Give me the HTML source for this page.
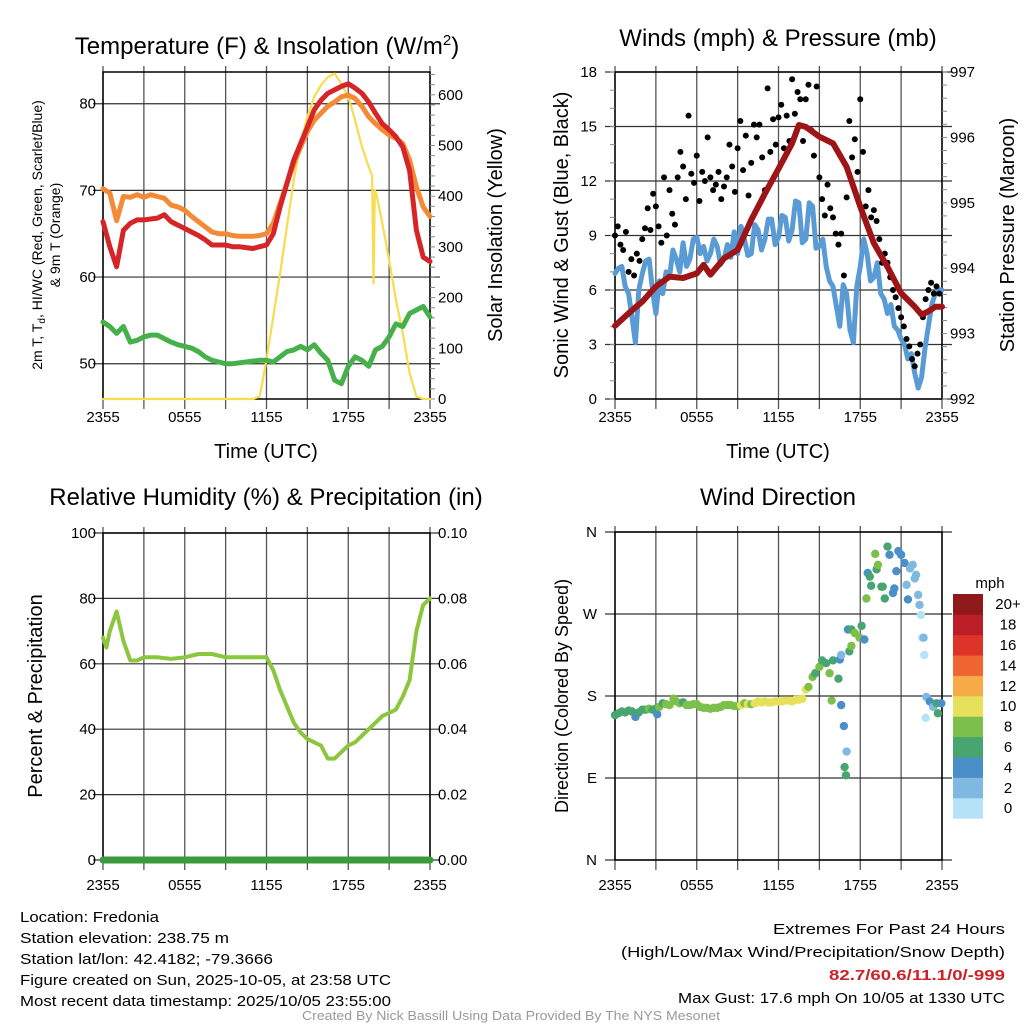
<!DOCTYPE html>
<html><head><meta charset="utf-8"><style>
html,body{margin:0;padding:0;background:#fff;}
svg{display:block;font-family:"Liberation Sans",Arial,sans-serif;}
</style></head><body>
<svg id="chart" width="1024" height="1024" viewBox="0 0 1024 1024" xmlns="http://www.w3.org/2000/svg">
<rect width="1024" height="1024" fill="#fff"/>
<text x="267" y="54" font-size="24" text-anchor="middle">Temperature (F) &amp; Insolation (W/m<tspan dy="-9" font-size="15">2</tspan><tspan dy="9">)</tspan></text>
<text x="778" y="46" font-size="24" text-anchor="middle">Winds (mph) &amp; Pressure (mb)</text>
<text x="266" y="505" font-size="24" text-anchor="middle">Relative Humidity (%) &amp; Precipitation (in)</text>
<text x="778" y="505" font-size="24" text-anchor="middle">Wind Direction</text>

<text transform="translate(42,235) rotate(-90)" font-size="14" text-anchor="middle">2m T, T<tspan dy="3" font-size="10">d</tspan><tspan dy="-3">, HI/WC (Red, Green, Scarlet/Blue)</tspan></text>
<text transform="translate(60,235) rotate(-90)" font-size="14" text-anchor="middle">&amp; 9m T (Orange)</text>
<text transform="translate(502,235) rotate(-90)" font-size="20" text-anchor="middle">Solar Insolation (Yellow)</text>
<text x="266" y="458" font-size="20" text-anchor="middle">Time (UTC)</text>
<text transform="translate(568,235) rotate(-90)" font-size="20" text-anchor="middle">Sonic Wind &amp; Gust (Blue, Black)</text>
<text transform="translate(1014,235) rotate(-90)" font-size="20" text-anchor="middle">Station Pressure (Maroon)</text>
<text x="778" y="458" font-size="20" text-anchor="middle">Time (UTC)</text>
<text transform="translate(42,696) rotate(-90)" font-size="20" text-anchor="middle">Percent &amp; Precipitation</text>
<text transform="translate(568,696) rotate(-90)" font-size="18" text-anchor="middle">Direction (Colored By Speed)</text>
<text x="990" y="588" font-size="15" text-anchor="middle">mph</text>

<g font-size="15">
<text x="20" y="922" textLength="139" lengthAdjust="spacingAndGlyphs">Location: Fredonia</text>
<text x="20" y="943" textLength="209" lengthAdjust="spacingAndGlyphs">Station elevation: 238.75 m</text>
<text x="20" y="964" textLength="253" lengthAdjust="spacingAndGlyphs">Station lat/lon: 42.4182; -79.3666</text>
<text x="20" y="985" textLength="371" lengthAdjust="spacingAndGlyphs">Figure created on Sun, 2025-10-05, at 23:58 UTC</text>
<text x="20" y="1006" textLength="371" lengthAdjust="spacingAndGlyphs">Most recent data timestamp: 2025/10/05 23:55:00</text>
<text x="773" y="934" textLength="232" lengthAdjust="spacingAndGlyphs">Extremes For Past 24 Hours</text>
<text x="621" y="957" textLength="384" lengthAdjust="spacingAndGlyphs">(High/Low/Max Wind/Precipitation/Snow Depth)</text>
<text x="829" y="980" textLength="176" lengthAdjust="spacingAndGlyphs" fill="#cc2229" font-weight="bold">82.7/60.6/11.1/0/-999</text>
<text x="678" y="1003" textLength="327" lengthAdjust="spacingAndGlyphs">Max Gust: 17.6 mph On 10/05 at 1330 UTC</text>
<text x="302" y="1020" font-size="13" fill="#999" textLength="418" lengthAdjust="spacingAndGlyphs">Created By Nick Bassill Using Data Provided By The NYS Mesonet</text>
</g>
<g id="layer"></g>
</svg>
<script>
// ---- data ----
const halfHours = [0,0.5,1,1.5,2,2.5,3,3.5,4,4.5,5,5.5,6,6.5,7,7.5,8,8.5,9,9.5,10,10.5,11,11.5,12,12.5,13,13.5,14,14.5,15,15.5,16,16.5,17,17.5,18,18.5,19,19.5,20,20.5,21,21.5,22,22.5,23,23.5,24];
const temp2m = [66.4,63.5,61.2,65.4,66.2,66.6,66.6,66.7,66.8,67.2,66.4,66,65.6,65.2,64.8,64.3,63.7,63.7,63.7,63.5,63.5,63.4,63.3,63.5,63.7,65,68.1,70.8,73.5,75.4,77.3,79.3,80.4,81.2,81.6,82,82.3,81.8,81.2,80.2,78.9,77.7,77,76.2,75,72.3,65.4,62.3,61.8];
const temp9m = [70.2,69.7,66.5,69.3,69.2,69.5,69.2,69.5,69.3,69.1,68.3,68.1,67.7,67,66.4,65.8,65.2,65,65,64.8,64.7,64.7,64.7,64.8,65,66.2,68.5,70.8,73.1,75,76.8,78.1,78.9,79.7,80.2,80.8,81,80.6,79.7,78.5,77.7,77,76.4,76,75.4,73.5,70.4,68.1,67];
const dewpoint = [54.8,54.3,53.5,54.3,52.5,52.7,53.1,53.3,53.3,52.9,52.5,52.2,52,51.8,51.4,50.8,50.4,50.2,50,50,50.1,50.2,50.3,50.4,50.4,50.2,50.8,51.4,51.6,52,51.6,52.2,51.2,50.4,48.1,47.7,49.7,50.8,50.4,49.7,51.6,52,53.1,54.6,54.3,55.8,56.2,56.6,55.4];
const solarHours = [0,11,11.5,12,12.5,13,13.5,14,14.5,15,15.5,16,16.5,17,17.5,18,18.5,19,19.5,19.75,19.85,19.95,20.1,20.5,21,21.5,22,22.5,23,23.5,24];
const solarVals = [0,0,5,77,163,248,340,432,504,557,596,619,635,642,622,596,550,498,458,440,228,412,400,347,274,196,130,51,5,0,0];
const windHours = [0,0.25,0.5,0.75,1,1.25,1.5,1.75,2,2.25,2.5,2.75,3,3.25,3.5,3.75,4,4.25,4.5,4.75,5,5.25,5.5,5.75,6,6.25,6.5,6.75,7,7.25,7.5,7.75,8,8.25,8.5,8.75,9,9.25,9.5,9.75,10,10.25,10.5,10.75,11,11.25,11.5,11.75,12,12.25,12.5,12.75,13,13.25,13.5,13.75,14,14.25,14.5,14.75,15,15.25,15.5,15.75,16,16.25,16.5,16.75,17,17.25,17.5,17.75,18,18.25,18.5,18.75,19,19.25,19.5,19.75,20,20.25,20.5,20.75,21,21.25,21.5,21.75,22,22.25,22.5,22.75,23,23.25,23.5,23.75,24];
const windSpeed = [6.9,7.2,7.3,6.2,5.8,4.5,3.1,6.0,6.9,7.6,7.7,6.0,4.7,6.5,5.8,7.0,6.7,8.2,7.7,7.0,8.6,7.3,7.7,8.8,8.9,8.0,8.4,7.6,8.0,8.8,8.4,7.4,7.7,8.5,7.8,9.2,8.0,9.5,8.8,7.9,8.0,9.6,9.3,8.2,8.8,9.9,9.9,8.5,8.9,10.1,10,8.7,9.3,10.9,10.8,8.6,8.8,10.8,10.6,8.3,8.4,8.8,7.3,6.5,6.2,5.1,4.0,6.3,5.8,3.8,3.1,6.2,7.3,8.8,8.0,6.5,6.7,7.5,5.8,5.5,4.7,5.2,4,3.8,3.3,3.0,2.2,2.5,1.4,0.6,1.2,2.8,4,5.2,5.8,6.0,6];
const pressHours = [0,1,2,3,4,5,6,6.5,7,8,9,10,11,12,13,13.5,14,15,16,17,18,19,20,21,22,22.5,23,23.5,24];
const pressure = [993.12,993.31,993.49,993.72,993.87,993.85,993.92,994.05,993.9,994.15,994.28,994.74,995.14,995.52,995.91,996.19,996.16,996.01,995.91,995.55,994.94,994.38,994.02,993.62,993.41,993.29,993.34,993.41,993.41];
const gusts = [9.0,9.5,8.5,8.2,9.2, 7.0,7.7,6.8,8.0,7.6, 8.8,9.4,10.5,9.3,11.3, 10.6,9.5,8.6,12.2,9.0, 11.5,10.2,9.6,12.2,13.6, 12.8,11.0,15.6,12.4,11.9, 13.4,10.9,12.5,12.0,14.4, 12.2,11.5,11.8,12.5,11.0, 11.7,12.2,14.0,12.8,11.4, 13.8,15.3,12.6,14.5,11.2, 13.0,15.1,14.4,15.1,13.3, 11.5,17.1,13.6,15.4,14.0, 15.5,16.2,13.8,15.6,14.2, 17.6,15.7,16.9,16.5,14.2, 16.5,17.3,14.8,13.4,17.2, 12.2,11.0,10.1,11.8,10.5, 10.0,9.1,8.5,9.1,6.8, 11.1,15.3,13.3,14.3,12.5, 16.5,13.6,10.6,11.5,10.0, 10.4,9.8,8.8,7.5,8.0, 7.5,6.7,6.0,5.6,5.0, 4.5,4.0,3.3,2.9,2.2, 1.8,2.5,3.0,4.5,5.5, 6.0,6.4,5.8,6.2,5.8];
const rhHours = [0,0.25,0.5,1,1.5,2,2.5,3,4,5,6,7,8,9,10,11,12,12.5,13,13.5,14,14.5,15,15.5,16,16.5,17,17.5,18,18.5,19,19.5,20,20.5,21,21.5,22,22.5,23,23.5,24];
const rhVals = [68,65,70,76,67,61,61,62,62,61.5,62,63,63,62,62,62,62,58,52,47,42,39,37,36,35,31,31,33,35,36,38,40,42,44,45,46,50,55,70,78,80];
const precipHours = [0,24];
const precipVals = [0,0];
const dirHours = [0,0.25,0.5,0.75,1,1.25,1.5,1.75,2,2.25,2.5,2.75,3,3.1,3.25,3.5,3.75,4,4.3,4.5,4.75,5,5.25,5.5,5.75,6,6.25,6.5,6.75,7,7.25,7.5,7.75,8,8.25,8.5,8.75,9,9.25,9.5,9.75,10,10.25,10.5,10.75,11,11.25,11.5,11.75,12,12.25,12.5,12.75,13,13.25,13.5,13.75,14,14.2,14.5,14.7,15,15.2,15.5,15.75,15.9,16,16.4,16.5,16.6,16.6,16.8,16.85,16.95,17,17.1,17.2,17.35,17.35,17.6,17.95,18.1,18.3,18.45,18.55,18.7,18.8,19.1,19.2,19.3,19.55,19.65,19.8,20.0,20.15,20.4,20.5,20.65,20.8,21.0,21.25,21.4,21.5,21.65,21.85,22.0,22.1,22.25,22.35,22.45,22.55,22.65,22.7,22.8,22.85,23.1,23.35,23.6,23.7,23.95];
const dirDeg = [159,161,163,162,164,163,157,162,165,165,166,165,166,160,168,172,171,170,177,174,172,173,170,170,171,171,168,167,167,166,167,167,168,170,170,170,169,169,170,172,171,171,172,174,173,174,173,173,174,174,174,175,175,174,176,176,177,187,190,201,205,212,219,216,205,175,219,199,220,225,170,147,102,93,119,253,229,235,253,249,244,257,242,287,315,311,301,336,319,324,300,300,287,344,335,293,298,317,339,335,326,302,286,320,324,309,313,291,280,269,244,244,225,156,179,174,168,172,161,172];
const dirSpeed = [6,6,6,6,6,6,4,6,6,6,7,6,6,4,8,6,8,8,8,8,8,6,8,8,8,8,8,8,8,8,8,8,8,8,8,8,8,8,9,8,10,8,10,10,9,10,10,10,10,10,10,10,10,10,10,10,10,9,8,7,6,7,6,6,8,8,6,6,4,2,4,4,6,6,2,4,6,8,6,8,8,6,4,8,4,6,6,8,6,8,6,6,6,6,4,4,4,4,4,4,4,2,4,2,2,2,2,2,2,0,0,2,0,0,2,4,2,6,6,4];
const timeTicks = ["2355","0555","1155","1755","2355"];
const tempTicks = [50,60,70,80];
const solarTicks = [0,100,200,300,400,500,600];
const windTicks = [0,3,6,9,12,15,18];
const pressTicks = [992,993,994,995,996,997];
const rhTicks = [0,20,40,60,80,100];
const precipTicks = ["0.00","0.02","0.04","0.06","0.08","0.10"];
const dirTicks = ["N","E","S","W","N"];
const speedBins = ["0","2","4","6","8","10","12","14","16","18","20+"];
const speedColors = ["#b5e2f7","#7fb9e2","#4a8fc7","#49a56f","#7cc04b","#e6e05b","#f6aa48","#ef6430","#dc3429","#bb1e26","#8f181b"];

// ---- helpers ----
const NS = "http://www.w3.org/2000/svg";
const layer = document.getElementById("layer");
function mk(tag, attrs, parent) {
  const el = document.createElementNS(NS, tag);
  for (const k in attrs) el.setAttribute(k, attrs[k]);
  (parent || layer).appendChild(el);
  return el;
}
function scale(d0, d1, r0, r1) { return v => r0 + (v - d0) / (d1 - d0) * (r1 - r0); }
function pathFrom(xs, ys, fx, fy) {
  return xs.map((x, i) => (i ? "L" : "M") + fx(x).toFixed(1) + "," + fy(ys[i]).toFixed(1)).join("");
}
function speedColor(s) { return speedColors[Math.min(10, Math.max(0, Math.round(s / 2)))]; }

function frame(name, x0, x1, y0, y1, hTicks, labOff) {
  const g = mk("g", {});
  
  
  const fx = scale(0, 24, x0, x1);
  for (let h = 0; h <= 24; h += 3) {
    const l = mk("line", {x1: fx(h), x2: fx(h), y1: y0 - 6, y2: y1 + 10, stroke: "#555", "stroke-width": 1.3}, g);
    
    
  }
  hTicks.forEach(y => {
    const l = mk("line", {x1: x0 - 10, x2: x1 + 10, y1: y, y2: y, stroke: "#333", "stroke-width": 1.2}, g);
    
    
  });
  const r = mk("rect", {x: x0, y: y0, width: x1 - x0, height: y1 - y0, fill: "none", stroke: "#000", "stroke-width": 1.5}, g);
  
  
  timeTicks.forEach((t, i) => {
    const tx = mk("text", {x: fx(i * 6), y: y1 + labOff, "font-size": 15, "text-anchor": "middle"}, g);
    tx.textContent = t;
    
    
  });
  return fx;
}
function yLabels(vals, fy, x, anchor, fmt) {
  vals.forEach(v => {
    const t = mk("text", {x: x, y: fy(v) + 5, "font-size": 15, "text-anchor": anchor});
    t.textContent = fmt ? fmt(v) : v;
    
    
  });
}
function minorTicks(x, y0, y1, n, dir) {
  for (let i = 0; i <= n; i++) {
    const y = y0 + (y1 - y0) * i / n;
    const l = mk("line", {x1: x, x2: x + dir * 5, y1: y, y2: y, stroke: "#888", "stroke-width": 1});
    
    
  }
}
function line(xs, ys, fx, fy, color, w, name) {
  const p = mk("path", {d: pathFrom(xs, ys, fx, fy), fill: "none", stroke: color, "stroke-width": w, "stroke-linejoin": "round", "stroke-linecap": "round"});
  
  
  return p;
}

// ---- Panel 1: temperature ----
{
  const x0 = 103, x1 = 430, y0 = 72, y1 = 399;
  const fyT = scale(45.93, 83.66, y1, y0);
  const fyS = scale(0, 645, y1, y0);
  const fx = frame("temp-panel", x0, x1, y0, y1, tempTicks.map(fyT), 23);
  yLabels(tempTicks, fyT, 96, "end");
  yLabels(solarTicks, fyS, 438, "start");
  minorTicks(x1, fyS(0), fyS(640), 32, 1);
  line(solarHours, solarVals, fx, fyS, "#f8dc4c", 2.2, "solar-insolation-line");
  line(halfHours, temp9m, fx, fyT, "#f48a36", 5, "temp-9m-line");
  line(halfHours, temp2m, fx, fyT, "#d62528", 5, "temp-2m-line");
  line(halfHours, dewpoint, fx, fyT, "#46b04a", 5, "dewpoint-line");
}
// ---- Panel 2: wind ----
{
  const x0 = 615, x1 = 942, y0 = 72, y1 = 399;
  const fyW = scale(0, 18, y1, y0);
  const fyP = scale(992, 997, y1, y0);
  const fx = frame("wind-panel", x0, x1, y0, y1, windTicks.map(fyW), 23);
  yLabels(windTicks, fyW, 597, "end");
  yLabels(pressTicks, fyP, 950, "start");
  minorTicks(x1, y0, y1, 25, 1);
  minorTicks(x0, y0, y1, 18, -1);
  line(windHours, windSpeed, fx, fyW, "#5a9bd6", 5, "sonic-wind-line");
  gusts.forEach((g, i) => {
    const c = mk("circle", {cx: fx(i * 0.2), cy: fyW(g), r: 3, fill: "#000"});
    
    
  });
  line(pressHours, pressure, fx, fyP, "#9e1518", 6, "pressure-line");
}
// ---- Panel 3: RH ----
{
  const x0 = 103, x1 = 430, y0 = 533, y1 = 860;
  const fyR = scale(0, 100, y1, y0);
  const fyPr = scale(0, 0.1, y1, y0);
  const fx = frame("rh-panel", x0, x1, y0, y1, rhTicks.map(fyR), 30);
  yLabels(rhTicks, fyR, 96, "end");
  precipTicks.forEach((t, i) => {
    const tx = mk("text", {x: 438, y: fyPr(i * 0.02) + 5, "font-size": 15});
    tx.textContent = t;
    
    
  });
  line(rhHours, rhVals, fx, fyR, "#8cc63f", 4, "relative-humidity-line");
  line(precipHours, precipVals, fx, fyPr, "#3a9a3c", 7, "precipitation-line");
}
// ---- Panel 4: direction ----
{
  const x0 = 615, x1 = 942, y0 = 532, y1 = 860;
  const fyD = scale(0, 360, y1, y0);
  const fx = frame("dir-panel", x0, x1, y0, y1, [0, 90, 180, 270, 360].map(fyD), 30);
  dirTicks.forEach((t, i) => {
    const tx = mk("text", {x: 597, y: fyD(i * 90) + 5, "font-size": 15, "text-anchor": "end"});
    tx.textContent = t;
    
    
  });
  dirHours.forEach((h, i) => {
    const c = mk("circle", {cx: fx(h), cy: fyD(dirDeg[i]), r: 4.2, fill: speedColor(dirSpeed[i])});
    
    
  });
  const cb0 = 594, cbH = 20.4;
  speedBins.forEach((b, i) => {
    const y = cb0 + (10 - i) * cbH;
    const r = mk("rect", {x: 953, y: y, width: 30, height: cbH + 0.3, fill: speedColors[i]});
    
    
    const t = mk("text", {x: 1008, y: y + cbH / 2 + 5, "font-size": 15, "text-anchor": "middle"});
    t.textContent = b;
    
    
  });
}
</script>
</body></html>
